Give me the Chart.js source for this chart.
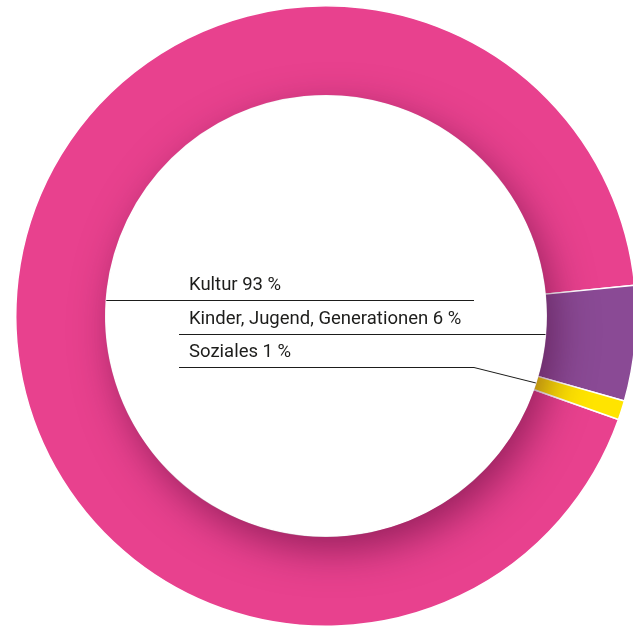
<!DOCTYPE html>
<html>
<head>
<meta charset="utf-8">
<script src="https://cdn.jsdelivr.net/npm/chart.js"></script>
<style>
  html, body { margin: 0; padding: 0; overflow: hidden; background: #fff; }
  #wrap { position: absolute; left: 0; top: 0; width: 652px; height: 632px; }
</style>
</head>
<body>
<div id="wrap"><canvas id="chart"></canvas></div>
<script>
const categories = ['Kultur', 'Kinder, Jugend, Generationen', 'Soziales'];
const shares = [93, 6, 1];
const colors = ['#e8418e', '#8a4a95', '#ffe400'];

// soft shadow on the inner edge of the ring, cast down and to the right
const ringShadow = {
  id: 'ringShadow',
  afterDatasetsDraw(chart) {
    const arc = chart.getDatasetMeta(0).data[0];
    const { x, y, innerRadius, outerRadius } = arc.getProps(['x', 'y', 'innerRadius', 'outerRadius'], true);
    const ctx = chart.ctx;
    ctx.save();
    ctx.beginPath();
    ctx.arc(x, y, outerRadius, 0, Math.PI * 2);
    ctx.arc(x, y, innerRadius + 0.5, 0, Math.PI * 2, true);
    ctx.clip();
    ctx.shadowColor = 'rgba(70, 0, 45, 0.5)';
    ctx.shadowBlur = 40;
    ctx.shadowOffsetX = 8;
    ctx.shadowOffsetY = 14;
    ctx.beginPath();
    ctx.arc(x, y, innerRadius, 0, Math.PI * 2);
    ctx.fillStyle = '#fff';
    ctx.fill();
    ctx.restore();
  }
};

// labels stacked in the hole with leader lines to the segments
const leaderLabels = {
  id: 'leaderLabels',
  afterDatasetsDraw(chart) {
    const arcs = chart.getDatasetMeta(0).data;
    const ctx = chart.ctx;
    const { x, y, innerRadius } = arcs[0].getProps(['x', 'y', 'innerRadius'], true);
    const textX = x - 137;
    const lineLeft = x - 147;
    const lineRight = x + 148;

    ctx.save();
    ctx.font = '18.5px Roboto';
    ctx.fillStyle = '#1d1d1b';
    ctx.strokeStyle = '#1d1d1b';
    ctx.lineWidth = 1;
    ctx.textBaseline = 'alphabetic';

    categories.forEach((name, i) => {
      const ly = Math.round(y - 16 + i * 33.5) + 0.5;
      ctx.fillText(name + ' ' + shares[i] + ' %', textX, ly - 11);

      ctx.beginPath();
      if (i === 0) {
        const dx = Math.sqrt(innerRadius * innerRadius - (ly - y) * (ly - y));
        ctx.moveTo(x - dx, ly);
        ctx.lineTo(lineRight, ly);
      } else if (i === 1) {
        const dx = Math.sqrt(innerRadius * innerRadius - (ly - y) * (ly - y));
        ctx.moveTo(lineLeft, ly);
        ctx.lineTo(x + dx, ly);
      } else {
        const a = arcs[i];
        const mid = (a.startAngle + a.endAngle) / 2;
        ctx.moveTo(lineLeft, ly);
        ctx.lineTo(lineRight, ly);
        ctx.lineTo(x + Math.cos(mid) * innerRadius, y + Math.sin(mid) * innerRadius);
      }
      ctx.stroke();
    });
    ctx.restore();
  }
};

new Chart(document.getElementById('chart'), {
  type: 'doughnut',
  data: {
    labels: categories,
    datasets: [{
      data: shares,
      backgroundColor: colors,
      borderColor: '#ffffff',
      borderWidth: 1.5
    }]
  },
  options: {
    responsive: true,
    maintainAspectRatio: false,
    animation: false,
    cutout: '71%',
    rotation: 109.5,
    layout: { padding: 5 },
    plugins: {
      legend: { display: false },
      tooltip: { enabled: false }
    }
  },
  plugins: [ringShadow, leaderLabels]
});
</script>
</body>
</html>
